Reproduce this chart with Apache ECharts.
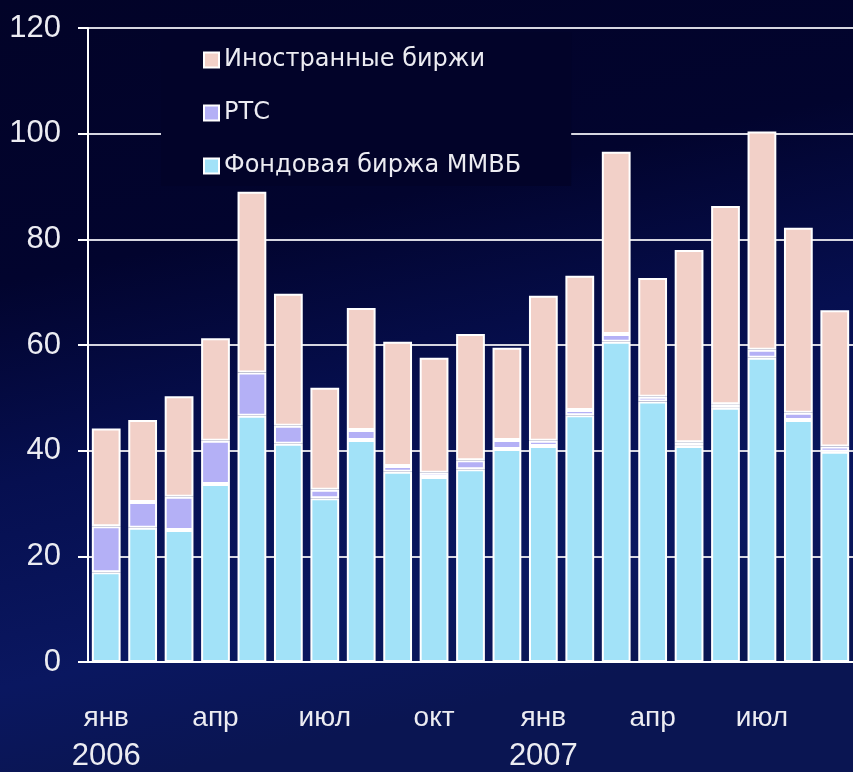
<!DOCTYPE html>
<html>
<head>
<meta charset="utf-8">
<script src="https://cdn.jsdelivr.net/npm/echarts@6/dist/echarts.min.js"></script>
<style>
  html, body { margin: 0; padding: 0; }
  #chart { width: 853px; height: 772px; }
</style>
</head>
<body>
<div id="chart"></div>
<script>
const months = ["янв", "фев", "мар", "апр", "май", "июн", "июл", "авг", "сен", "окт", "ноя", "дек",
  "янв", "фев", "мар", "апр", "май", "июн", "июл", "авг", "сен"];
const years = { 0: "2006", 12: "2007" };
const yTicks = [0, 120, 20];

const mmvb = [17.0, 25.4, 25.0, 33.7, 46.6, 41.3, 31.0, 42.0, 36.0, 35.0, 36.5, 40.3,
  40.9, 46.7, 60.6, 49.3, 40.9, 48.1, 57.6, 45.8, 39.8];
const rts = [8.7, 4.9, 6.3, 8.2, 8.2, 3.4, 1.6, 1.9, 1.1, 0.8, 1.7, 1.7,
  1.0, 1.0, 1.5, 0.9, 0.7, 0.7, 1.5, 1.4, 1.0];
const foreign = [18.5, 15.5, 19.0, 19.4, 34.2, 25.0, 19.3, 23.1, 23.5, 21.8, 23.9, 17.5,
  27.4, 25.4, 34.5, 22.5, 36.4, 37.5, 41.3, 35.0, 25.8];

const names = ["Иностранные биржи", "РТС", "Фондовая биржа ММВБ"];

const chart = echarts.init(document.getElementById("chart"));

function barSeries(name, data, color) {
  return {
    name,
    type: "bar",
    stack: "total",
    data,
    barCategoryGap: "21%",
    itemStyle: { color, borderColor: "#ffffff", borderWidth: 2 },
  };
}

chart.setOption({
  animation: false,
  backgroundColor: {
    type: "linear", x: 0, y: 0, x2: 0.2, y2: 1,
    colorStops: [
      { offset: 0, color: "#020328" },
      { offset: 0.35, color: "#02042e" },
      { offset: 0.6, color: "#060f50" },
      { offset: 0.85, color: "#0a1760" },
      { offset: 1, color: "#0a1552" },
    ],
  },
  legend: {
    data: names,
    orient: "vertical",
    left: 161,
    top: 32,
    padding: [16, 50, 8, 42],
    backgroundColor: "#020329",
    itemWidth: 15,
    itemHeight: 15,
    itemGap: 29,
    icon: "rect",
    textStyle: {
      color: "#ececf2",
      fontFamily: "DejaVu Sans",
      fontSize: 24,
      lineHeight: 24,
    },
  },
  grid: { left: 88, right: -3, top: 28, bottom: 110 },
  xAxis: {
    type: "category",
    data: months,
    axisLine: { lineStyle: { color: "#ffffff", width: 2 } },
    axisTick: { interval: 0, length: 10, lineStyle: { color: "#ffffff", width: 2 } },
    axisLabel: {
      interval: 2,
      margin: 37,
      color: "#ececf2",
      formatter: (value, index) => `{m|${value}}\n{y|${years[index] || " "}}`,
      rich: {
        m: { fontFamily: "Liberation Sans", fontSize: 28, lineHeight: 38, color: "#ececf2" },
        y: { fontFamily: "Liberation Sans", fontSize: 31, lineHeight: 38, color: "#ececf2" },
      },
    },
  },
  yAxis: {
    type: "value",
    min: yTicks[0],
    max: yTicks[1],
    interval: yTicks[2],
    axisLine: { show: true, lineStyle: { color: "#ffffff", width: 2 } },
    axisTick: { show: true, length: 10, lineStyle: { color: "#ffffff", width: 2 } },
    axisLabel: {
      margin: 27,
      color: "#ececf2",
      fontFamily: "Liberation Sans",
      fontSize: 31,
    },
    splitLine: { lineStyle: { color: "#d6d6e0", width: 2 } },
  },
  series: [
    barSeries("Фондовая биржа ММВБ", mmvb, "#a2e2f8"),
    barSeries("РТС", rts, "#b4b0f6"),
    barSeries("Иностранные биржи", foreign, "#f2d0c8"),
  ],
});
</script>
</body>
</html>
